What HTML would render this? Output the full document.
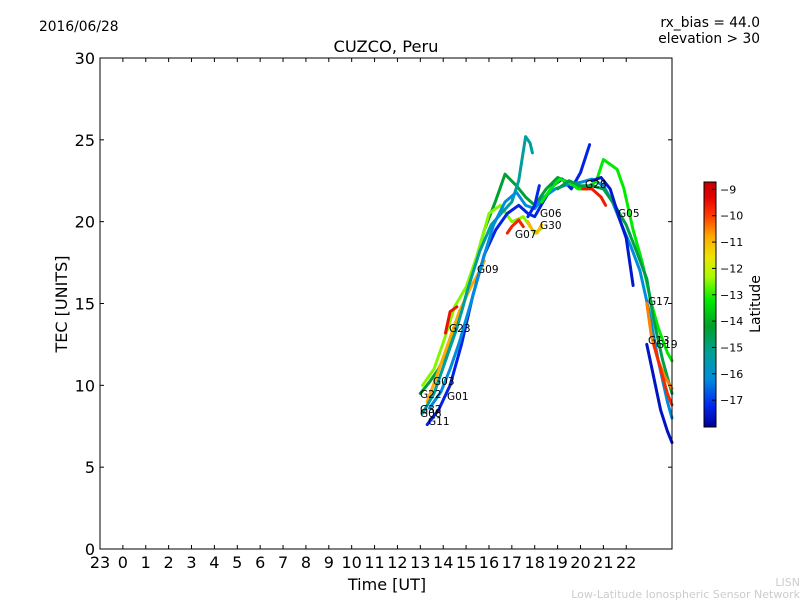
<!DOCTYPE html>
<html><head><meta charset="utf-8"><style>body{margin:0;background:#fff}svg text{font-family:"DejaVu Sans","Liberation Sans",sans-serif}</style></head>
<body>
<svg id="chart" width="800" height="600" xmlns="http://www.w3.org/2000/svg">
<rect width="800" height="600" fill="#fff"/>
<text x="39" y="31" font-size="13.8">2016/06/28</text>
<text x="386" y="52" font-size="16.3" text-anchor="middle">CUZCO, Peru</text>
<text x="760" y="27" font-size="13.8" text-anchor="end">rx_bias = 44.0</text>
<text x="760" y="43" font-size="13.8" text-anchor="end">elevation &gt; 30</text>
<g id="series"></g>
<g id="labels"></g>
<rect x="100" y="58" width="572" height="491" fill="none" stroke="#000" stroke-width="1"/>
<g id="axes"></g>
<text x="387" y="590" font-size="16" text-anchor="middle">Time [UT]</text>
<text x="67" y="304" font-size="16" text-anchor="middle" transform="rotate(-90 67 304)">TEC [UNITS]</text>
<defs><linearGradient id="cmap" x1="0" y1="1" x2="0" y2="0"></linearGradient></defs>
<g id="cbar"></g>
<text x="760" y="304" font-size="14" text-anchor="middle" transform="rotate(-90 760 304)">Latitude</text>
<text x="800" y="586" font-size="11" fill="#ccc" text-anchor="end">LISN</text>
<text x="800" y="598" font-size="11" fill="#ccc" text-anchor="end">Low-Latitude Ionospheric Sensor Network</text>
</svg>
<script>
const xTickLabels=["23","0","1","2","3","4","5","6","7","8","9","10","11","12","13","14","15","16","17","18","19","20","21","22"];
const yTicks=[0,5,10,15,20,25,30];
const cbarTicks=[-9,-10,-11,-12,-13,-14,-15,-16,-17];
const seriesLat=[-14.3,-12.5,-9.5,-10.8,-15.3,-17.3,-16.2,-13.2,-14.5,-17.5,-10.5,-9.8,-17.6,-9.6,-11,-9.7,-17.2];
const seriesTime=[
[13.0,13.4,13.8,14.3,14.8,15.3,15.8,16.3,16.7,17.2,17.6,18.0,18.5,19.0,19.5,20.0,20.5],
[13.1,13.6,14.0,14.5,15.0,15.5,16.0,16.5,17.0,17.5,18.0,18.3],
[14.1,14.3,14.6],
[13.3,13.7,14.2,14.7,15.2,15.6,15.8],
[13.1,13.6,14.1,14.6,15.1,15.6,16.1,16.6,17.0,17.3,17.6,17.8,17.9],
[13.3,13.8,14.3,14.8,15.3,15.8,16.3,16.8,17.3,17.7,18.0,18.4,18.8,19.2,19.6,20.0,20.4],
[13.4,13.9,14.3,14.7,15.2,15.7,16.2,16.7,17.2,17.6,18.0,18.4,18.9,19.5,20.0,20.5,21.0,21.4,21.8,22.2,22.6,23.0,23.4,23.8,24.0],
[18.3,18.7,19.1,19.5,19.9,20.3,20.7,21.0,21.3,21.6,21.9,22.3,22.7,23.1,23.4,23.8,24.0],
[19.0,19.5,20.0,20.5,21.0,21.5,22.0,22.5,22.9,23.2,23.6,24.0],
[20.5,20.9,21.3,21.7,22.0,22.3],
[22.9,23.1,23.4,23.7,24.0],
[23.2,23.5,23.8,24.0],
[22.9,23.2,23.5,23.8,24.0],
[20.1,20.5,20.9,21.1],
[17.7,17.9,18.1,18.3],
[16.8,17.0,17.3,17.5],
[17.7,18.0,18.2]];
const seriesTec=[
[9.5,10.2,11.0,12.5,14.5,17,19.5,21.3,22.9,22.2,21.5,21.0,22.0,22.7,22.4,22.0,22.2],
[10.0,11.0,12.6,14.8,16.0,18.0,20.5,21.0,20.0,20.3,19.3,19.6],
[13.2,14.5,14.8],
[9.0,10.5,12.5,14.5,16,17.0,17.6],
[8.3,9.5,11.5,13.5,16,18.2,19.8,20.6,21.2,22.5,25.2,24.8,24.2],
[7.6,8.5,10.0,12.5,15.5,18.0,19.5,20.5,21.0,20.5,20.3,21.3,22.2,22.6,22.0,23.0,24.7],
[8.6,9.6,11.0,12.6,15.0,17.5,19.8,21.2,21.8,21.0,20.8,21.5,22.0,22.3,22.4,22.6,22.2,21.2,19.8,18.5,17.0,14.5,11.5,9.0,8.0],
[21.2,22.0,22.6,22.4,22.0,22.0,22.5,23.8,23.5,23.2,22.0,19.5,17.5,15.0,13.5,12.0,11.5],
[22.0,22.5,22.2,22.2,22.0,21.0,19.8,18.0,16.5,14.0,11.5,9.5],
[22.5,22.7,22.0,20.2,19.0,16.1],
[15.0,13.0,11.5,10.5,9.8],
[12.5,11.0,9.5,8.8],
[12.5,10.5,8.5,7.2,6.5],
[22.0,22.0,21.5,21.0],
[20.0,19.5,19.3,19.8],
[19.3,19.7,20.1,19.7],
[20.3,21.0,22.2]];
const satLabels=["G03","G22","G01","G32","G08","G11","G23","G09","G07","G06","G30","G28","G05","G17","G13","G19"];
const satLabelPos=[[433,385],[420,398],[447,400],[420,413],[420,417],[428,425],[449,332],[477,273],[515,238],[540,217],[540,229],[585,188],[618,217],[648,305],[648,344],[656,348]];
const NS="http://www.w3.org/2000/svg";
const X=h=>100+(h+1)*22.88, Y=v=>549-v*16.367;
const latMin=-18.02,latMax=-8.72, cbTop=182,cbBot=427;
const CY=l=>cbBot-(l-latMin)/(latMax-latMin)*(cbBot-cbTop);
const stops=[[-18.02,[0,0,150]],[-17.2,[0,40,240]],[-16.2,[0,140,220]],[-15.2,[0,160,150]],[-14.2,[0,160,40]],[-13.2,[0,235,0]],[-12.3,[170,250,0]],[-11.6,[235,230,0]],[-10.8,[255,170,0]],[-10.0,[255,60,0]],[-9.3,[230,0,0]],[-8.72,[190,0,0]]];
function cmap(l){for(let i=0;i<stops.length-1;i++){const a=stops[i],b=stops[i+1];if(l<=b[0]||i==stops.length-2){const f=Math.max(0,Math.min(1,(l-a[0])/(b[0]-a[0])));
const c=a[1].map((v,k)=>Math.round(v+(b[1][k]-v)*f));return `rgb(${c[0]},${c[1]},${c[2]})`;}}}
function mk(tag,attrs,parent){const e=document.createElementNS(NS,tag);for(const k in attrs)e.setAttribute(k,attrs[k]);parent.appendChild(e);return e;}
const grad=document.getElementById('cmap');
stops.forEach(s=>mk('stop',{offset:(s[0]-latMin)/(latMax-latMin),'stop-color':`rgb(${s[1].join(',')})`},grad));
const sg=document.getElementById('series');
seriesTime.forEach((ts,i)=>{const d=ts.map((t,j)=>(j?'L':'M')+X(t).toFixed(1)+','+Y(seriesTec[i][j]).toFixed(1)).join('');
const p=mk('path',{d:d,fill:'none',stroke:cmap(seriesLat[i]),'stroke-width':3,'stroke-linejoin':'round','stroke-linecap':'round'},sg);

});
const lg=document.getElementById('labels');
satLabels.forEach((s,i)=>{const t=mk('text',{x:satLabelPos[i][0],y:satLabelPos[i][1],'font-size':10.5},lg);t.textContent=s;

});
const ax=document.getElementById('axes');
xTickLabels.forEach((s,i)=>{const x=X(i-1);mk('line',{x1:x,x2:x,y1:549,y2:545,stroke:'#000'},ax);mk('line',{x1:x,x2:x,y1:58,y2:62,stroke:'#000'},ax);
const t=mk('text',{x:x,y:568,'font-size':16,'text-anchor':'middle'},ax);t.textContent=s;

});
yTicks.forEach(v=>{const y=Y(v);mk('line',{x1:100,x2:104,y1:y,y2:y,stroke:'#000'},ax);mk('line',{x1:668,x2:672,y1:y,y2:y,stroke:'#000'},ax);
const t=mk('text',{x:95,y:y+6,'font-size':16,'text-anchor':'end'},ax);t.textContent=v;

});
const cb=document.getElementById('cbar');
mk('rect',{x:704,y:cbTop,width:12,height:cbBot-cbTop,fill:'url(#cmap)',stroke:'#000','stroke-width':1},cb);
cbarTicks.forEach(v=>{const y=CY(v);mk('line',{x1:712,x2:716,y1:y,y2:y,stroke:'#000'},cb);
const t=mk('text',{x:720,y:y+4,'font-size':11},cb);t.textContent='\u2212'+Math.abs(v);

});
</script>
</body></html>
